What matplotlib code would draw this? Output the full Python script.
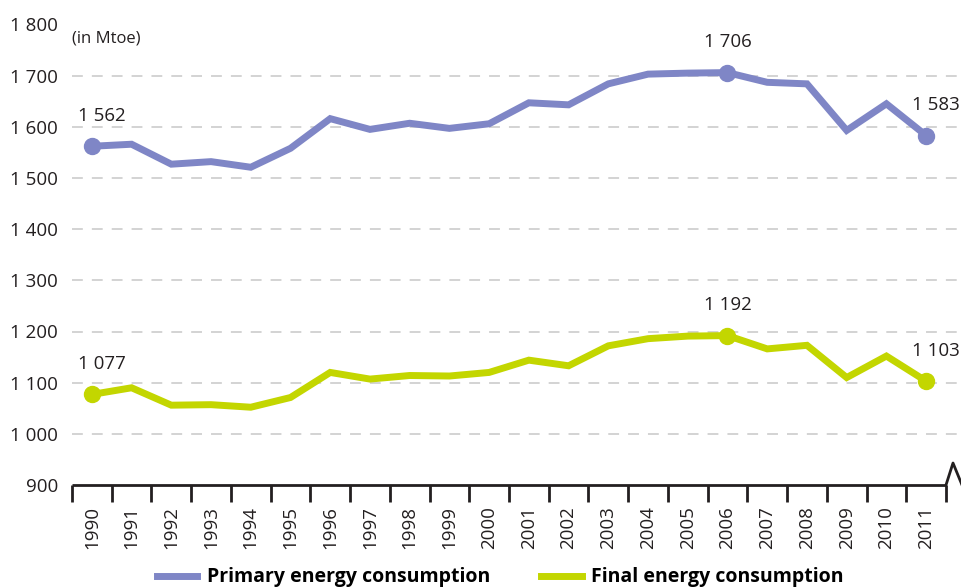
import matplotlib
matplotlib.use("Agg")
import matplotlib.pyplot as plt

plt.rcParams['font.family'] = ['Open Sans', 'DejaVu Sans']

years = [str(y) for y in range(1990, 2012)]
primary = [1562, 1566, 1527, 1532, 1521, 1558, 1616, 1595, 1607, 1597, 1606,
           1647, 1643, 1684, 1703, 1705, 1706, 1687, 1684, 1593, 1645, 1583]
final = [1077, 1090, 1056, 1057, 1052, 1071, 1120, 1107, 1114, 1113, 1120,
         1144, 1133, 1172, 1186, 1191, 1192, 1166, 1173, 1110, 1152, 1103]
y_ticks = [900, 1000, 1100, 1200, 1300, 1400, 1500, 1600, 1700, 1800]
y_labels = ['900', '1 000', '1 100', '1 200', '1 300', '1 400', '1 500', '1 600', '1 700', '1 800']
labelled = [0, 16, 21]

c_prim = '#7f86c6'
c_fin = '#c3d600'
c_axis = '#231f20'

fig = plt.figure(figsize=(9.62, 5.88), dpi=100)
ax = fig.add_axes([72 / 962, 103 / 588, 890 / 962, 460.5 / 588])

x = list(range(len(years)))
ax.plot(x, primary, color=c_prim, lw=5, solid_joinstyle='miter', zorder=3)
ax.plot(x, final, color=c_fin, lw=5, solid_joinstyle='miter', zorder=3)

for i in labelled:
    dx = 7 if i in (0, len(years) - 1) else 0
    for ser, col in ((primary, c_prim), (final, c_fin)):
        ax.plot(x[i], ser[i], 'o', color=col, ms=11.5, zorder=4)
        ax.annotate(f"{ser[i] // 1000} {ser[i] % 1000:03d}", (x[i], ser[i]),
                    xytext=(dx, 22), textcoords='offset points',
                    ha='center', va='center', fontsize=13.5, color='#231f20')

n = len(years)
ax.set_xlim(-0.5, -0.5 + 890 / (874 / n))
ax.set_ylim(900, 1800)

for v in y_ticks[1:]:
    ax.axhline(v, color='#d0d0d0', lw=1.3, ls=(0, (6, 5)), zorder=1)

for s in ax.spines.values():
    s.set_visible(False)
ax.plot([-0.5, n - 0.5], [900, 900], color=c_axis, lw=2, clip_on=False,
        solid_capstyle='butt', zorder=5)
# axis break mark
ax.plot([n - 0.5, n - 0.5 + 7 / 39.7, n - 0.5 + 16 / 39.7], [900, 943, 900],
        color=c_axis, lw=2, clip_on=False, zorder=5)

ax.set_yticks(y_ticks)
ax.set_yticklabels(y_labels, fontsize=13.5, color='#231f20')
ax.tick_params(axis='y', length=0, pad=10)

ax.set_xticks(x)
ax.set_xticklabels(years, rotation=90, fontsize=13.5, color='#231f20')
ax.set_xticks([i - 0.5 for i in range(n + 1)], minor=True)
ax.tick_params(axis='x', which='major', length=0, pad=15)
ax.tick_params(axis='x', which='minor', length=12, width=2, color=c_axis, direction='out')

ax.text(0.0, 1772, '(in Mtoe)', fontsize=12, color='#231f20', va='center', ha='left',
        transform=ax.get_yaxis_transform())

h1, = ax.plot([], [], color=c_prim, lw=5)
h2, = ax.plot([], [], color=c_fin, lw=5)
fig.legend([h1, h2], ['Primary energy consumption', 'Final energy consumption'],
           loc='center', bbox_to_anchor=(0.52, 0.018), ncol=2, frameon=False,
           prop={'weight': 'bold', 'size': 14}, handlelength=2.1, columnspacing=2.6,
           handletextpad=0.5)

fig.savefig('out.png', dpi=100)
